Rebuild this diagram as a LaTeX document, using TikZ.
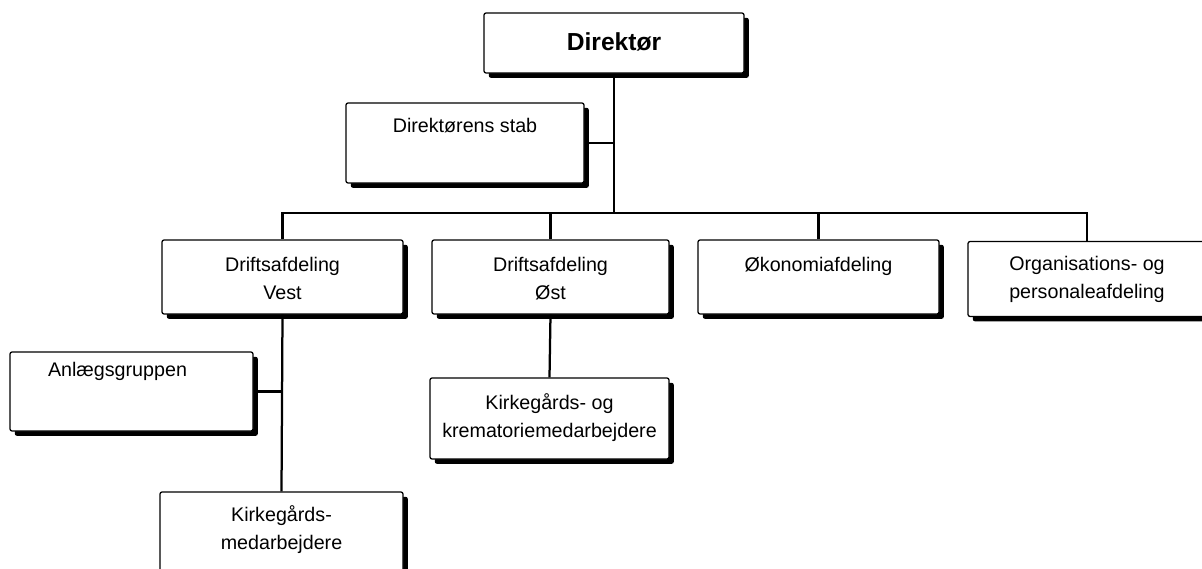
\documentclass[tikz,border=0pt]{standalone}
\usepackage{fontspec}
\setmainfont{Liberation Sans}
\usetikzlibrary{shadows}

\tikzset{
  orgbox/.style={draw, line width=0.9pt, rounded corners=1.5pt, fill=white, inner sep=0pt,
    drop shadow={shadow xshift=0.12cm, shadow yshift=-0.12cm, fill=black, opacity=1, rounded corners=1.5pt}},
  orgtext/.style={anchor=north, inner sep=0pt, align=center, font=\fontsize{14}{19.9}\selectfont},
  link/.style={line width=1.6pt}
}

\begin{document}
\begin{tikzpicture}[x=0.025cm, y=-0.025cm]
			\clip (0,0) rectangle (1202,568);
			\fill[white] (0,0) rectangle (1202,568);
			% name/x/y/width/height/text offset/x offset/text
			\foreach \n/\x/\y/\w/\h/\d/\s/\t in {
				dir/614/43/260/60/20/0/{\bfseries\fontsize{17.5}{20}\selectfont Direktør},
				stab/465/143/238/80/16/0/{Direktørens stab},
				vest/282.5/277/241/74/18/0/{Driftsafdeling\\Vest},
				ost/550.5/277/237/74/18/0/{Driftsafdeling\\Øst},
				oko/818.5/277/241/74/18/0/{Økonomiafdeling},
				org/1087/279/238/75/15/0/{Organisations- og\\personaleafdeling},
				anl/131.5/391.5/243/79/11/-14/{Anlægsgruppen},
				krem/549.5/418.5/239/81/16/0/{Kirkegårds- og\\krematoriemedarbejdere},
				kmed/281.5/532/243/80/14/0/{Kirkegårds-\\medarbejdere}}{
				\node[orgbox, minimum width=\w*0.025cm, minimum height=\h*0.025cm] (\n) at (\x,\y) {};
				\node[orgtext] (\n-txt) at ([xshift=\s*0.025cm, yshift=-\d*0.025cm]\n.north) {\t};
			}
			
			\coordinate (bus) at (614,213);
			\draw[link] (dir.south) -- (bus);
			\draw[link] (vest.north) |- (bus) -| (org.north);
			\foreach \x in {ost,oko}{
				\draw[link] (\x.north) -- (\x.north |- bus);
			}
			\draw[link] (stab.east) -- (stab.east -| dir.south);
			\draw[link] (vest.south) -- (kmed.north);
			\draw[link] (anl.east) -- (anl.east -| vest.south);
			\draw[link] (ost.south) -- (krem.north);
		\end{tikzpicture}
\end{document}
